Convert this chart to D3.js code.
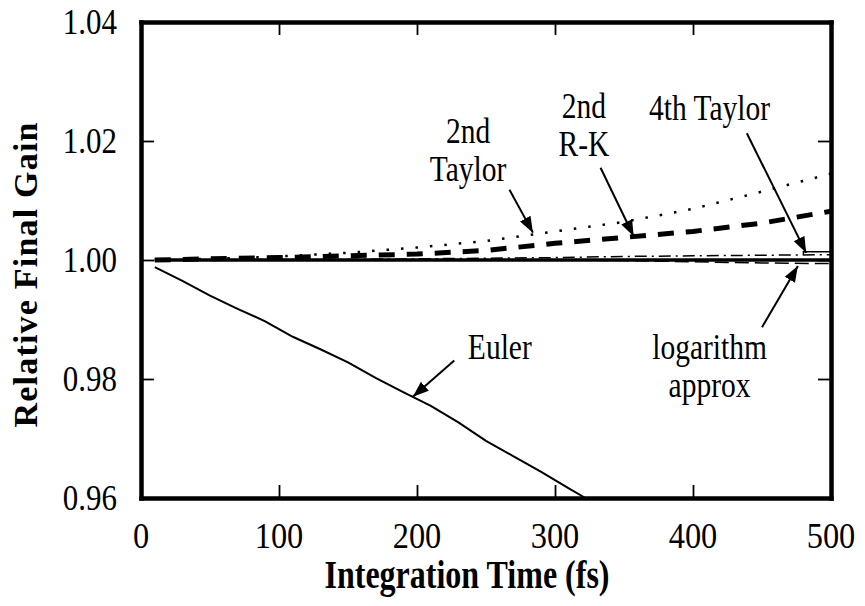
<!DOCTYPE html>
<html>
<head>
<meta charset="utf-8">
<script src="https://cdn.jsdelivr.net/npm/d3@7"></script>
<style>
  body { margin: 0; background: #fff; }
</style>
</head>
<body>
<div id="chart"></div>
<script>
//Data
const times = [10, 50, 100, 150, 200, 250, 300, 350, 400, 450, 500]
const taylor2 = [1.0000, 1.0002, 1.0006, 1.0012, 1.0021, 1.0032, 1.0048, 1.0064, 1.0086, 1.0115, 1.0145]
const rungeKutta2 = [1.0000, 1.0002, 1.0004, 1.0007, 1.0010, 1.0016, 1.0028, 1.0038, 1.0048, 1.0062, 1.0082]
const taylor4 = [1.0000, 1.0000, 1.0001, 1.0001, 1.0002, 1.0003, 1.0004, 1.0006, 1.0007, 1.0008, 1.0009]
const logApprox = [1.0000, 1.0000, 1.0000, 1.0000, 1.0000, 1.0000, 1.0000, 0.9999, 0.9997, 0.9995, 0.9994]
const exact = [1.0000, 1.0000, 1.0000, 1.0000, 1.0000, 1.0000, 1.0000, 1.0000, 1.0000, 1.0000, 1.0000]

const eulerTimes = [10, 30, 50, 70, 90, 110, 130, 150, 170, 190, 210, 230, 250, 270, 290, 310, 322]
const euler = [0.9988, 0.9965, 0.9940, 0.9918, 0.9897, 0.9871, 0.9850, 0.9828, 0.9802, 0.9778, 0.9755, 0.9727, 0.9696, 0.9670, 0.9644, 0.9616, 0.9600]

const xTicks = [0, 100, 200, 300, 400, 500]
const yTicks = [0.96, 0.98, 1.00, 1.02, 1.04]

// labels: text lines, text anchor (t, gain), arrow start and end (t, gain)
const labelText = [['2nd', 'Taylor'], ['2nd', 'R-K'], ['4th Taylor'], ['Euler'], ['logarithm', 'approx']]
const labelAt = [[237, 1.0197], [321, 1.0239], [412, 1.0235], [260, 0.9834], [412, 0.9834]]
const arrowFrom = [[267, 1.0118], [333, 1.0155], [439, 1.0213], [227, 0.9831], [450, 0.9887]]
const arrowTo = [[284, 1.0046], [357, 1.0040], [482, 1.0012], [197, 0.9770], [476, 0.9990]]

//Dimension
let dimensions = {
    width: 865,
    height: 606,
    margin: {
      top: 22,
      bottom: 108,
      left: 141,
      right: 34
    }
  }

const font = '"Liberation Serif"'

const svg = d3.select('#chart')
              .append('svg')
              .attr('width', dimensions.width)
              .attr('height', dimensions.height)

const container = svg.append('g')
                     .attr('transform', `translate(${dimensions.margin.left},${dimensions.margin.top})`)

const containerWidth = dimensions.width - dimensions.margin.left - dimensions.margin.right
const containerHeight = dimensions.height - dimensions.margin.top - dimensions.margin.bottom

//Scales
const xScale = d3.scaleLinear()
                 .domain([0, 500])
                 .range([0, containerWidth])

const yScale = d3.scaleLinear()
                 .domain([0.96, 1.04])
                 .range([containerHeight, 0])

// arrow head
svg.append('defs')
   .append('marker')
   .attr('id', 'head')
   .attr('markerUnits', 'userSpaceOnUse')
   .attr('viewBox', '0 0 16 12')
   .attr('refX', 16)
   .attr('refY', 6)
   .attr('markerWidth', 16)
   .attr('markerHeight', 12)
   .attr('orient', 'auto')
   .append('path')
   .attr('d', 'M0,0 L16,6 L0,12 Z')
   .attr('fill', '#000')

//Lines
const line = d3.line()
               .x(d => xScale(d[0]))
               .y(d => yScale(d[1]))

const series = [
  {t: times, v: exact, width: 3.5, dash: null},
  {t: times, v: logApprox, width: 1.5, dash: '14 6'},
  {t: times, v: taylor4, width: 1.5, dash: '12 5 2 5'},
  {t: times, v: rungeKutta2, width: 5, dash: '16 12'},
  {t: times, v: taylor2, width: 2.5, dash: '2.5 12'},
  {t: eulerTimes, v: euler, width: 2, dash: null}
]

container.selectAll('.series')
         .data(series)
         .join('path')
         .attr('class', 'series')
         .attr('d', s => line(s.t.map((t, i) => [t, s.v[i]])))
         .attr('fill', 'none')
         .attr('stroke', '#000')
         .attr('stroke-width', s => s.width)
         .attr('stroke-dasharray', s => s.dash)

// step at the end of 4th Taylor
container.append('path')
         .attr('d', line([[480, 1.0009], [480, 1.0014], [500, 1.0014]]))
         .attr('fill', 'none')
         .attr('stroke', '#000')
         .attr('stroke-width', 1.5)

//Axes (ticks inside, mirrored on all sides)
const tickLen = 13
const axes = [
  {axis: d3.axisBottom(xScale).tickValues(xTicks).tickSizeInner(-tickLen), at: `translate(0,${containerHeight})`},
  {axis: d3.axisTop(xScale).tickValues(xTicks).tickSizeInner(-tickLen), at: 'translate(0,0)'},
  {axis: d3.axisLeft(yScale).tickValues(yTicks).tickSizeInner(-tickLen), at: 'translate(0,0)'},
  {axis: d3.axisRight(yScale).tickValues(yTicks).tickSizeInner(-tickLen), at: `translate(${containerWidth},0)`}
]

axes.forEach(a => {
  const g = container.append('g')
                     .attr('transform', a.at)
                     .call(a.axis.tickSizeOuter(0).tickFormat(''))
  g.select('.domain').attr('stroke-width', 4.5).attr('stroke-linecap', 'square')
  g.selectAll('.tick line').attr('stroke-width', 1.8)
})

// tick labels
container.selectAll('.xlabel')
         .data(xTicks)
         .join('text')
         .attr('class', 'xlabel')
         .attr('transform', d => `translate(${xScale(d)},${containerHeight + 50}) scale(0.9,1)`)
         .attr('text-anchor', 'middle')
         .style('font-family', font)
         .attr('font-size', '36px')
         .text(d => d)

container.selectAll('.ylabel')
         .data(yTicks)
         .join('text')
         .attr('class', 'ylabel')
         .attr('transform', d => `translate(-24,${yScale(d) + 12}) scale(0.86,1)`)
         .attr('text-anchor', 'end')
         .style('font-family', font)
         .attr('font-size', '36px')
         .text(d => d3.format('.2f')(d))

//Annotations
container.selectAll('.arrow')
         .data(arrowFrom)
         .join('line')
         .attr('class', 'arrow')
         .attr('x1', d => xScale(d[0]))
         .attr('y1', d => yScale(d[1]))
         .attr('x2', (d, i) => xScale(arrowTo[i][0]))
         .attr('y2', (d, i) => yScale(arrowTo[i][1]))
         .attr('stroke', '#000')
         .attr('stroke-width', 2)
         .attr('marker-end', 'url(#head)')

labelText.forEach((lines, i) => {
  const txt = container.append('text')
                       .attr('transform', `translate(${xScale(labelAt[i][0])},${yScale(labelAt[i][1])}) scale(0.82,1)`)
                       .attr('text-anchor', 'middle')
                       .style('font-family', font)
                       .attr('font-size', '36px')
  lines.forEach((l, j) => {
    txt.append('tspan')
       .attr('x', 0)
       .attr('y', j * 38)
       .text(l)
  })
})

//Axis titles
svg.append('text')
   .attr('transform', `translate(467,588) scale(0.8,1)`)
   .attr('text-anchor', 'middle')
   .style('font-family', font)
   .attr('font-weight', 'bold')
   .attr('font-size', '40px')
   .text('Integration Time (fs)')

svg.append('text')
   .attr('transform', 'translate(37,275) rotate(-90)')
   .attr('text-anchor', 'middle')
   .style('font-family', font)
   .attr('font-weight', 'bold')
   .attr('font-size', '34px')
   .attr('textLength', 305)
   .attr('lengthAdjust', 'spacing')
   .text('Relative Final Gain')
</script>
</body>
</html>
